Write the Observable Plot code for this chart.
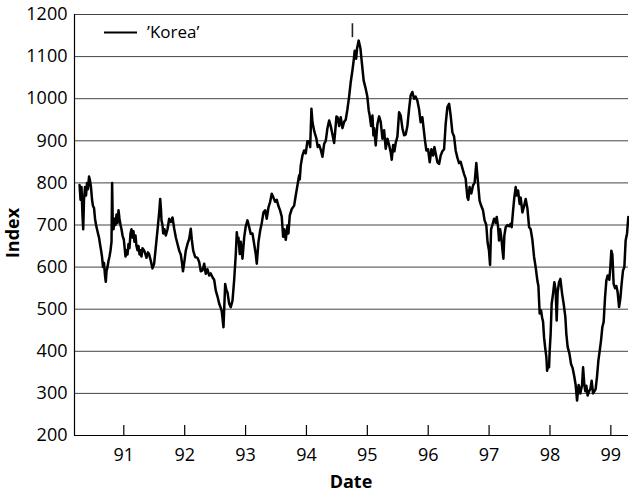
<!DOCTYPE html>
<html><head><meta charset="utf-8">
<script src="https://cdn.jsdelivr.net/npm/d3@7"></script>
<script src="https://cdn.jsdelivr.net/npm/@observablehq/plot@0.6"></script>
<style>body{margin:0;background:#fff} svg{display:block}</style>
</head><body><div id="chart"></div>
<script>
const seriesName = "’Korea’";
const xLabel = "Date";
const yLabel = "Index";
const xTicks = [1991, 1992, 1993, 1994, 1995, 1996, 1997, 1998, 1999];
const xTickLabels = ["91", "92", "93", "94", "95", "96", "97", "98", "99"];
const yTicks = [200, 300, 400, 500, 600, 700, 800, 900, 1000, 1100, 1200];
// [decimal year, index value]
const korea = [
[1990.273,795],[1990.289,760],[1990.305,790],[1990.322,720],[1990.333,690],[1990.346,760],[1990.363,790],[1990.379,770],[1990.396,800],[1990.412,785],[1990.429,815],[1990.445,805],[1990.461,790],[1990.478,760],[1990.494,745],[1990.511,740],[1990.527,715],[1990.544,700],[1990.560,690],[1990.576,680],[1990.593,670],[1990.609,655],[1990.626,640],[1990.642,625],[1990.658,600],[1990.675,610],[1990.691,580],[1990.704,565],[1990.716,590],[1990.732,600],[1990.749,615],[1990.765,625],[1990.782,640],[1990.798,660],[1990.808,800],[1990.819,700],[1990.831,690],[1990.847,715],[1990.864,700],[1990.880,725],[1990.897,705],[1990.913,735],[1990.929,715],[1990.946,700],[1990.962,690],[1990.979,675],
[1991.000,665],[1991.011,650],[1991.028,625],[1991.044,640],[1991.061,630],[1991.077,655],[1991.093,645],[1991.110,680],[1991.126,690],[1991.143,670],[1991.159,685],[1991.175,660],[1991.192,675],[1991.208,650],[1991.225,640],[1991.241,650],[1991.258,630],[1991.274,640],[1991.290,625],[1991.307,645],
[1991.335,639],[1991.356,630],[1991.373,622],[1991.397,635],[1991.417,630],[1991.443,615],[1991.471,597],[1991.498,608],[1991.525,647],[1991.553,687],[1991.581,730],[1991.598,762],[1991.611,735],[1991.619,711],[1991.635,700],[1991.647,680],[1991.668,690],[1991.690,675],[1991.718,690],[1991.745,715],[1991.772,707],[1991.800,718],[1991.828,691],[1991.854,671],[1991.882,655],[1991.910,639],[1991.936,630],[1991.956,610],[1991.972,590],[1991.992,610],
[1992.018,639],[1992.046,655],[1992.074,667],[1992.100,691],[1992.117,665],[1992.140,639],[1992.172,624],[1992.210,622],[1992.238,612],[1992.264,590],[1992.292,592],[1992.320,608],[1992.346,584],[1992.374,595],[1992.402,580],[1992.428,585],[1992.456,576],[1992.484,570],
[1992.511,544],[1992.539,530],[1992.567,513],[1992.588,505],[1992.609,495],[1992.637,457],[1992.665,560],[1992.686,545],[1992.703,540],[1992.731,513],[1992.757,505],[1992.785,520],[1992.813,570],[1992.839,630],[1992.856,683],[1992.870,660],[1992.883,670],[1992.905,631],[1992.921,660],[1992.949,620],[1992.977,670],
[1993.003,697],[1993.031,711],[1993.059,695],[1993.085,679],[1993.113,680],[1993.141,655],[1993.167,631],[1993.184,608],[1993.212,660],[1993.240,687],[1993.266,705],[1993.294,730],[1993.322,735],[1993.348,715],[1993.376,742],[1993.404,755],[1993.430,774],[1993.458,765],[1993.486,755],[1993.512,760],[1993.540,745],[1993.568,734],[1993.594,720],[1993.617,672],
[1993.634,690],[1993.660,665],[1993.688,699],[1993.704,680],[1993.726,723],[1993.759,738],[1993.798,746],[1993.824,770],[1993.852,794],[1993.880,818],[1993.890,808],[1993.906,841],[1993.934,865],[1993.962,877],[1993.988,870],
[1994.016,899],[1994.044,899],[1994.061,885],[1994.082,976],[1994.099,944],[1994.126,924],[1994.143,915],[1994.164,905],[1994.185,885],[1994.208,890],[1994.235,879],[1994.263,862],[1994.291,893],[1994.317,900],[1994.345,930],[1994.373,948],[1994.399,935],[1994.427,915],[1994.455,895],[1994.471,920],[1994.493,958],[1994.514,955],[1994.537,935],[1994.563,956],[1994.591,930],[1994.619,945],[1994.645,950],[1994.673,975],[1994.701,1005],[1994.727,1039],[1994.755,1067],[1994.776,1091],[1994.793,1114],[1994.816,1095],[1994.832,1120],[1994.858,1138],[1994.886,1120],[1994.914,1080],[1994.940,1043],[1994.968,1027],
[1995.000,1005],[1995.023,972],[1995.039,960],[1995.062,935],[1995.084,960],[1995.100,913],[1995.112,930],[1995.138,889],[1995.166,940],[1995.194,958],[1995.220,945],[1995.248,905],[1995.276,925],[1995.302,881],[1995.330,905],[1995.358,890],[1995.384,873],[1995.401,855],[1995.424,890],[1995.445,875],[1995.466,895],[1995.494,910],[1995.522,968],[1995.548,960],[1995.576,930],[1995.604,913],[1995.630,915],[1995.658,935],[1995.686,976],[1995.712,1008],[1995.740,1016],[1995.768,1000],[1995.794,1005],[1995.822,995],[1995.850,975],[1995.876,944],[1995.904,956],[1995.932,920],[1995.948,900],[1995.970,877],[1995.998,880],
[1996.025,849],[1996.053,880],[1996.081,865],[1996.102,885],[1996.123,870],[1996.151,849],[1996.179,845],[1996.205,865],[1996.233,875],[1996.261,880],[1996.287,940],[1996.315,980],[1996.343,988],[1996.369,960],[1996.397,920],[1996.425,910],[1996.451,877],[1996.479,860],[1996.507,847],[1996.533,850],[1996.561,835],[1996.589,821],[1996.615,810],[1996.643,766],[1996.659,760],[1996.680,790],[1996.708,775],[1996.736,794],[1996.762,800],[1996.790,847],[1996.818,800],[1996.844,758],[1996.872,745],[1996.900,735],[1996.926,711],[1996.954,700],[1996.975,659],[1996.998,640],
[1997.016,605],[1997.033,690],[1997.054,700],[1997.082,715],[1997.108,705],[1997.125,719],[1997.148,695],[1997.164,663],[1997.181,690],[1997.202,670],[1997.218,643],[1997.235,620],[1997.251,675],[1997.273,695],[1997.301,700],[1997.328,697],[1997.355,703],[1997.371,695],[1997.394,734],[1997.415,766],[1997.437,790],[1997.453,770],[1997.476,782],[1997.502,750],[1997.519,765],[1997.547,730],[1997.575,745],[1997.601,762],[1997.629,740],[1997.657,695],[1997.683,690],[1997.711,665],[1997.739,624],[1997.765,600],[1997.793,568],[1997.810,555],[1997.831,490],[1997.854,497],[1997.870,481],[1997.887,470],[1997.903,433],[1997.920,410],[1997.941,386],[1997.953,354],[1997.969,365],[1997.985,362],[1997.995,400],
[1998.011,441],[1998.028,513],[1998.051,537],[1998.072,564],[1998.094,545],[1998.110,473],[1998.126,540],[1998.149,564],[1998.171,572],[1998.199,537],[1998.225,513],[1998.253,481],[1998.269,441],[1998.291,410],[1998.319,395],[1998.346,370],[1998.373,360],[1998.401,339],[1998.422,320],[1998.445,283],[1998.471,320],[1998.499,300],[1998.527,320],[1998.544,362],[1998.565,320],[1998.581,305],[1998.598,318],[1998.619,295],[1998.642,305],[1998.663,310],[1998.685,330],[1998.708,300],[1998.729,305],[1998.750,310],[1998.773,340],[1998.795,378],[1998.816,400],[1998.839,426],[1998.860,457],[1998.882,470],[1998.905,529],[1998.926,568],[1998.947,580],[1998.975,570],[1998.992,600],
[1999.008,639],[1999.025,630],[1999.046,560],[1999.069,550],[1999.090,555],[1999.112,540],[1999.135,505],[1999.156,525],[1999.177,560],[1999.200,592],[1999.222,600],[1999.243,663],[1999.266,680],[1999.287,719]
];
// small stray mark above the 1994 peak
const stray = [{date: 1994.755, lo: 1145, hi: 1178}];

const data = korea.map(([date, value]) => ({date, value}));
const xDomain = [1990.19, 1999.29];

const chart = Plot.plot({
  width: 629, height: 495,
  marginLeft: 74, marginTop: 14, marginRight: 1, marginBottom: 60,
  style: {fontFamily: "'Open Sans', sans-serif", fontSize: "18px", color: "#000", background: "#fff"},
  x: {domain: xDomain, ticks: xTicks, tickFormat: d => xTickLabels[xTicks.indexOf(d)], tickSize: 0, tickPadding: 13, label: null},
  y: {domain: [200, 1200], ticks: yTicks, tickFormat: d => String(d), tickSize: 0, tickPadding: 7, label: null},
  marks: [
    Plot.ruleY(yTicks.filter(v => v > 200), {stroke: "#444", strokeWidth: 1}),
    Plot.ruleY([200], {stroke: "#000", strokeWidth: 1.2}),
    Plot.ruleX([xDomain[0]], {stroke: "#000", strokeWidth: 1.2}),
    Plot.ruleX(xTicks, {y1: 200, y2: 200, insetTop: -10, stroke: "#000", strokeWidth: 1.2}),
    Plot.line(data, {x: "date", y: "value", stroke: "#000", strokeWidth: 2.5}),
    Plot.ruleX(stray, {x: "date", y1: "lo", y2: "hi", stroke: "#222", strokeWidth: 1.6})
  ]
});

const svg = d3.select(chart);
svg.append("line").attr("x1", 104).attr("x2", 137).attr("y1", 32.5).attr("y2", 32.5)
  .attr("stroke", "#000").attr("stroke-width", 2);
svg.append("text").attr("x", 147).attr("y", 38).attr("text-anchor", "start")
  .attr("font-size", 17).attr("fill", "#000").text(seriesName);
svg.append("text").attr("x", 351).attr("y", 488).attr("text-anchor", "middle")
  .attr("font-size", 18).attr("font-weight", "bold").attr("fill", "#000").text(xLabel);
svg.append("text").attr("transform", "translate(18.5,233) rotate(-90)").attr("text-anchor", "middle")
  .attr("font-size", 18).attr("font-weight", "bold").attr("fill", "#000").text(yLabel);

document.getElementById("chart").appendChild(chart);
</script>
</body></html>
